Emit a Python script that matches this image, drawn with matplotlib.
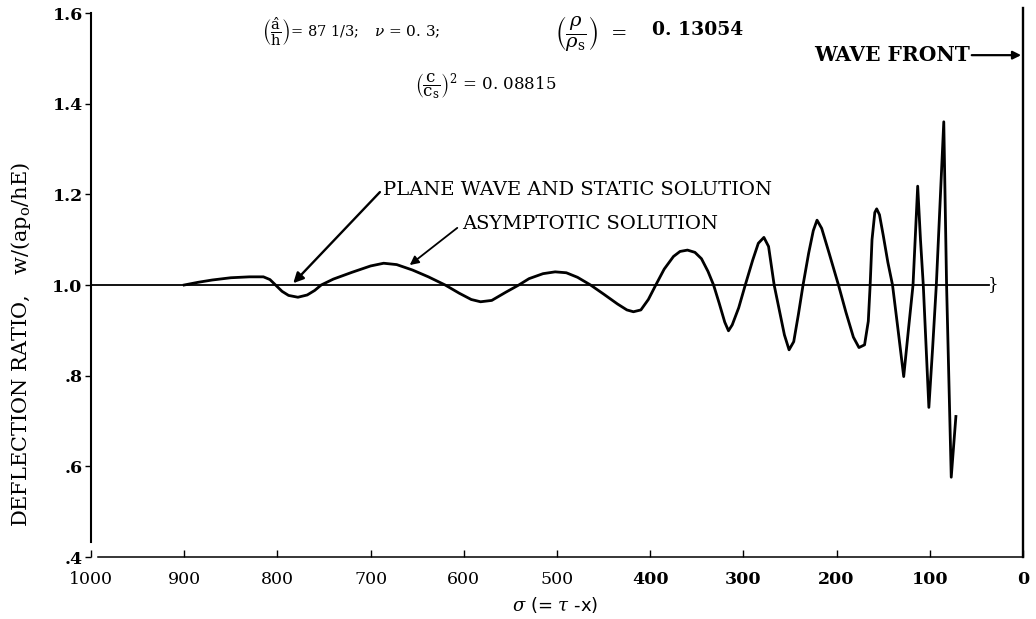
import numpy as np
import matplotlib
matplotlib.use("Agg")
import matplotlib.pyplot as plt

plt.rcParams['font.family'] = ['DejaVu Serif']
plt.rcParams['mathtext.fontset'] = 'dejavuserif'

# sigma (= tau - x) and deflection ratio
sigma = [900, 885, 870, 850, 830, 815, 808, 802, 795, 788, 778, 768, 760, 753,
         740, 720, 700, 686, 672, 655, 638, 620, 605, 592, 582, 570, 555, 541,
         530, 515, 502, 490, 478, 464, 450, 435, 425, 418, 410, 402, 394, 385,
         375, 368, 360, 352, 345, 338, 332, 326, 320, 316, 312, 305, 298, 290,
         284, 278, 273, 267, 262, 256, 251, 246, 241, 236, 230, 225, 221, 216,
         208, 198, 190, 182, 176, 170, 166, 164, 162, 159, 157, 154, 150, 145,
         140, 134, 128, 123, 118, 113, 110, 107, 101, 97, 93, 85, 82, 77, 72]
deflection = [1.000, 1.006, 1.011, 1.016, 1.018, 1.018, 1.012, 1.000, 0.986, 0.977,
              0.973, 0.978, 0.988, 1.000, 1.013, 1.028, 1.042, 1.048, 1.045, 1.033,
              1.018, 1.000, 0.982, 0.968, 0.963, 0.966, 0.984, 1.000, 1.014, 1.025,
              1.029, 1.027, 1.017, 1.000, 0.980, 0.958, 0.945, 0.941, 0.945, 0.968,
              1.000, 1.035, 1.063, 1.074, 1.077, 1.072, 1.058, 1.030, 1.000, 0.960,
              0.918, 0.899, 0.912, 0.950, 1.000, 1.055, 1.092, 1.105, 1.085, 1.000,
              0.950, 0.890, 0.857, 0.875, 0.935, 1.000, 1.070, 1.120, 1.143, 1.125,
              1.070, 1.000, 0.940, 0.885, 0.862, 0.868, 0.920, 1.000, 1.100, 1.160,
              1.168, 1.155, 1.110, 1.050, 1.000, 0.900, 0.798, 0.900, 1.000, 1.218,
              1.100, 1.000, 0.730, 0.860, 1.000, 1.360, 1.000, 0.576, 0.710]

# plane wave and static solution
plane_sigma = [1000, 36]
plane_value = [1.0, 1.0]

xticks = [1000, 900, 800, 700, 600, 500, 400, 300, 200, 100, 0]
yticks = [0.4, 0.6, 0.8, 1.0, 1.2, 1.4, 1.6]
ytick_labels = ['.4', '.6', '.8', '1.0', '1.2', '1.4', '1.6']

W, H = 1036, 619
fig = plt.figure(figsize=(W / 100, H / 100), dpi=100)
ax = fig.add_axes([91 / W, 62 / H, 932 / W, 544 / H])


def px(x, y):
    # figure fraction from pixel position (top-left origin)
    return x / W, 1 - y / H


ax.plot(plane_sigma, plane_value, color='black', lw=1.3)
ax.plot(sigma, deflection, color='black', lw=2.0, solid_joinstyle='round')
ax.text(32, 1.0, '}', fontsize=12, ha='center', va='center')

# wave front line at sigma = 0
ax.plot([0, 0], [0.4, 1.611], color='black', lw=1.7, clip_on=False)

ax.set_xlim(1000, 0)
ax.set_ylim(0.4, 1.6)
ax.spines['top'].set_visible(False)
ax.spines['right'].set_visible(False)
ax.spines['left'].set_linewidth(1.5)
ax.spines['left'].set_bounds(0.433, 1.6)
ax.spines['bottom'].set_linewidth(1.1)
ax.spines['bottom'].set_bounds(993, 0)

ax.set_xticks(xticks)
ax.set_xticklabels([str(t) for t in xticks], fontsize=12.5)
for lab, t in zip(ax.get_xticklabels(), xticks):
    if t <= 400:
        lab.set_fontweight('bold')
ax.set_yticks(yticks)
ax.set_yticklabels(ytick_labels, fontsize=12.5, fontweight='bold')
ax.tick_params(axis='x', direction='in', length=5, width=1, pad=10)
ax.tick_params(axis='y', direction='out', length=4, width=1, pad=2)

ax.set_ylabel(r'DEFLECTION RATIO,   w/(ap$_\mathrm{o}$/hE)', fontsize=15)
ax.yaxis.set_label_coords(-0.062, 0.39)
ax.set_xlabel(r'$\sigma$ (= $\tau$ -x)', fontsize=13, family='DejaVu Sans')
ax.xaxis.set_label_coords(0.498, -0.07)

# parameters
fig.text(*px(262, 32), r'$\left(\dfrac{\hat{\mathrm{a}}}{\mathrm{h}}\right)$= 87 1/3;',
         fontsize=10.5, ha='left', va='center')
fig.text(*px(374, 32), r'$\nu$ = 0. 3;', fontsize=11, ha='left', va='center')
fig.text(*px(555, 34), r'$\left(\dfrac{\rho}{\rho_{\mathrm{s}}}\right)$  =',
         fontsize=14, ha='left', va='center')
fig.text(*px(652, 30), '0. 13054', fontsize=13.5, fontweight='bold', ha='left', va='center')
fig.text(*px(415, 86), r'$\left(\dfrac{\mathrm{c}}{\mathrm{c}_{\mathrm{s}}}\right)^2$ = 0. 08815',
         fontsize=12, ha='left', va='center')

ax.text(687, 1.209, 'PLANE WAVE AND STATIC SOLUTION', fontsize=14, ha='left', va='center')
ax.annotate('', xy=(783, 1.004), xytext=(690, 1.205),
            arrowprops=dict(arrowstyle='-|>', color='black', lw=1.7,
                            shrinkA=0, shrinkB=0, mutation_scale=15))
ax.text(602, 1.134, 'ASYMPTOTIC SOLUTION', fontsize=14, ha='left', va='center')
ax.annotate('', xy=(658, 1.044), xytext=(607, 1.126),
            arrowprops=dict(arrowstyle='-|>', color='black', lw=1.3,
                            shrinkA=0, shrinkB=0, mutation_scale=13))
ax.text(57, 1.507, 'WAVE FRONT', fontsize=14.5, fontweight='bold', ha='right', va='center')
ax.annotate('', xy=(2, 1.507), xytext=(55, 1.507),
            arrowprops=dict(arrowstyle='-|>', color='black', lw=1.6,
                            shrinkA=0, shrinkB=0, mutation_scale=12))

fig.savefig('out.png', dpi=100)
